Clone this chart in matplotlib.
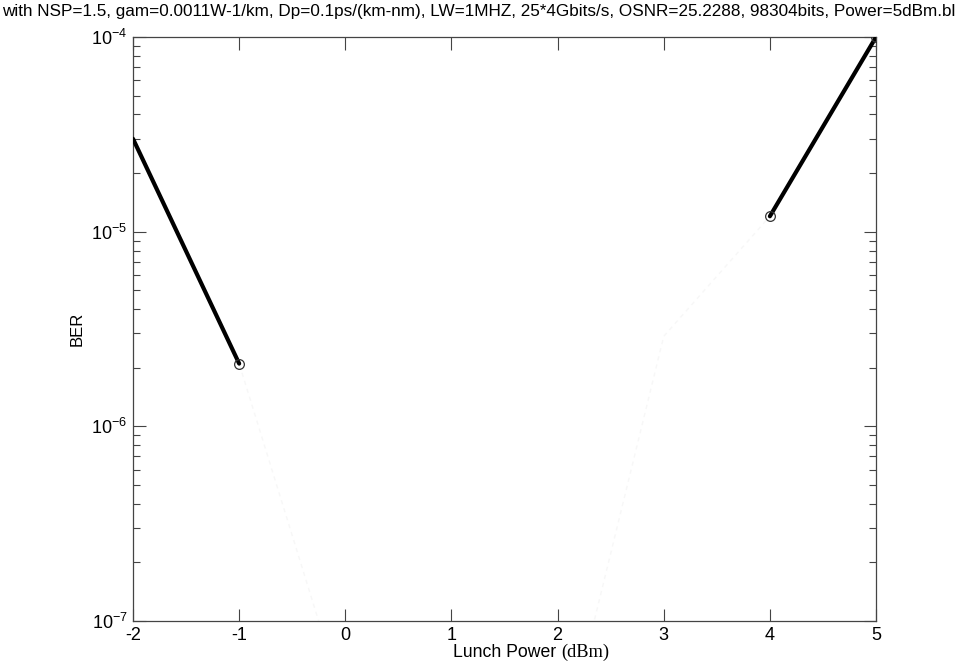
import matplotlib
matplotlib.use("Agg")
import matplotlib.pyplot as plt
from matplotlib.ticker import LogLocator, FixedLocator

# Données
puissance = [-2, -1, 0, 1, 2, 3, 4, 5]          # dBm
ber = [3.0e-5, 2.1e-6, 3.6e-8, 1.0e-8, 1.7e-8, 2.9e-6, 1.2e-5, 1.0e-4]

x_ticks = [-2, -1, 0, 1, 2, 3, 4, 5]
y_ticks = [1e-7, 1e-6, 1e-5, 1e-4]
y_labels = ["$10^{-7}$", "$10^{-6}$", "$10^{-5}$", "$10^{-4}$"]

titre = ("with NSP=1.5, gam=0.0011W-1/km, Dp=0.1ps/(km-nm), LW=1MHZ, "
         "25*4Gbits/s, OSNR=25.2288, 98304bits, Power=5dBm.bl")

plt.rcParams["font.family"] = ["Liberation Sans", "DejaVu Sans"]
plt.rcParams["mathtext.fontset"] = "custom"
plt.rcParams["mathtext.rm"] = "Liberation Sans"
plt.rcParams["mathtext.it"] = "Liberation Sans"

GRIS = "#444444"

fig = plt.figure(figsize=(9.68, 6.67), dpi=100)
fig.patch.set_facecolor("white")
ax = fig.add_axes([0.1374, 0.069, 0.7676, 0.8755])

# courbe complète presque invisible (trace très claire)
ax.plot(puissance, ber, color="#f7f7f7", lw=1.0, ls=(0, (3, 3)), zorder=1)

# segments visibles en noir épais
ax.plot(puissance[:2], ber[:2], color="black", lw=3.0, zorder=3,
        solid_capstyle="round")
ax.plot(puissance[-2:], ber[-2:], color="black", lw=3.0, zorder=3,
        solid_capstyle="round")
mx = [puissance[1], puissance[-2], puissance[-1]]
my = [ber[1], ber[-2], ber[-1]]
ax.plot(mx, my, ls="none", marker="o", ms=7, mfc="none",
        mec="#333333", mew=0.9, zorder=4)

ax.set_yscale("log")
ax.set_xlim(-2, 5)
ax.set_ylim(1e-7, 1e-4)

ax.xaxis.set_major_locator(FixedLocator(x_ticks))
ax.set_xticklabels([str(v) for v in x_ticks])
ax.yaxis.set_major_locator(FixedLocator(y_ticks))
ax.set_yticklabels(y_labels)
ax.yaxis.set_minor_locator(LogLocator(base=10, subs=range(2, 10)))
ax.yaxis.set_minor_formatter(plt.NullFormatter())

ax.tick_params(which="both", direction="in", top=True, right=True,
               color=GRIS, labelsize=13, pad=4)
ax.tick_params(which="major", length=9, width=0.8)
ax.tick_params(which="minor", length=5, width=0.8)
for s in ax.spines.values():
    s.set_edgecolor(GRIS)
    s.set_linewidth(0.9)

ax.set_ylabel("BER", fontsize=12)
ax.yaxis.set_label_coords(-0.0646, 0.5)

# étiquette x : texte sans-serif + unité en serif
fig.text(0.5795, 0.0085, "Lunch Power ", ha="right", va="bottom",
         fontsize=12.7)
fig.text(0.5795, 0.0085, "(dBm)", ha="left", va="bottom",
         fontsize=13.2, family=["Liberation Serif", "DejaVu Serif"])

# titre long, presque toute la largeur comme dans l'original
fig.text(0.002, 0.972, titre, ha="left", va="bottom", fontsize=12.3)

fig.savefig("out.png", dpi=100, facecolor="white")
